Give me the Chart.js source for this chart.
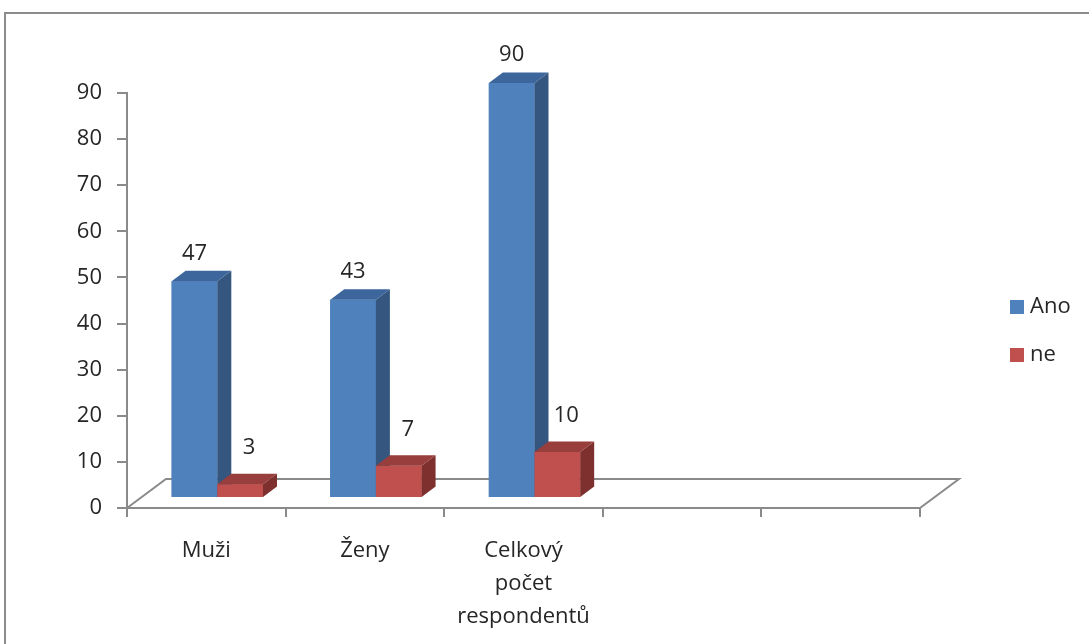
<!DOCTYPE html>
<html lang="cs">
<head>
<meta charset="utf-8">
<title>Ano / ne</title>
<script src="https://cdn.jsdelivr.net/npm/chart.js@4/dist/chart.umd.min.js"></script>
<style>
  html, body { margin: 0; padding: 0; background: #fff; }
  canvas { display: block; }
</style>
</head>
<body>
<canvas id="chart" width="1089" height="644"></canvas>
<script>
// ---- data ----
const categories = ['Muži', 'Ženy', ['Celkový', 'počet', 'respondentů'], '', ''];
const seriesNames = ['Ano', 'ne'];
const anoValues = [47, 43, 90, null, null];
const neValues = [3, 7, 10, null, null];
const yMin = 0;
const yMax = 90;
const yStep = 10;

// ---- look ----
const FONT = "'Open Sans', 'Noto Sans', sans-serif";
const FONT_SIZE = 22;
const TEXT = '#262626';
const AXIS = '#8a8a8a';
const faceColors = {
  front: ['#4F81BD', '#C0504D'],
  top:   ['#3D669C', '#983E3C'],
  side:  ['#34567F', '#7E302E']
};

// simple oblique projection: floor depth, plane the bars stand in, bar depth
const floorDepth = { dx: 39, dy: -29 };
const barPlane   = { dx: 11, dy: -10 };
const barDepth   = { dx: 14, dy: -10.5 };
const valueLabelOffset = [ { dx: 0, dy: -28 }, { dx: 9, dy: -36 } ];

Chart.defaults.font.family = FONT;
Chart.defaults.font.size = FONT_SIZE;
Chart.defaults.color = TEXT;

// outer frame of the chart object
const framePlugin = {
  id: 'frame',
  beforeDraw(chart) {
    const ctx = chart.ctx;
    ctx.save();
    ctx.fillStyle = '#fff';
    ctx.fillRect(0, 0, chart.width, chart.height);
    ctx.strokeStyle = '#8c8c8c';
    ctx.lineWidth = 2;
    ctx.strokeRect(5, 13, chart.width + 40, chart.height + 40);
    ctx.restore();
  }
};

function poly(ctx, pts, color) {
  ctx.beginPath();
  ctx.moveTo(pts[0][0], pts[0][1]);
  for (let k = 1; k < pts.length; k++) ctx.lineTo(pts[k][0], pts[k][1]);
  ctx.closePath();
  ctx.fillStyle = color;
  ctx.fill();
}

// floor, side/top faces of the columns and the value labels
const columns3d = {
  id: 'columns3d',
  beforeDatasetsDraw(chart) {
    const { ctx, chartArea: a } = chart;
    ctx.save();
    ctx.strokeStyle = AXIS;
    ctx.lineWidth = 2;
    ctx.beginPath();
    ctx.moveTo(a.left, a.bottom);
    ctx.lineTo(a.left + floorDepth.dx, a.bottom + floorDepth.dy);
    ctx.lineTo(a.right + floorDepth.dx, a.bottom + floorDepth.dy);
    ctx.lineTo(a.right, a.bottom);
    ctx.stroke();
    ctx.restore();

    ctx.save();
    ctx.translate(barPlane.dx, barPlane.dy);
  },
  afterDatasetsDraw(chart) {
    const ctx = chart.ctx;
    const n = chart.data.labels.length;
    const sets = chart.data.datasets;
    for (let j = 0; j < n; j++) {
      for (let i = 0; i < sets.length; i++) {
        const v = sets[i].data[j];
        if (v === null || v === undefined) continue;
        const el = chart.getDatasetMeta(i).data[j];
        const { x, y, base, width } = el.getProps(['x', 'y', 'base', 'width'], true);
        const x1 = x - width / 2, x2 = x + width / 2;
        const dx = barDepth.dx, dy = barDepth.dy;
        poly(ctx, [[x1, y], [x2, y], [x2, base], [x1, base]], faceColors.front[i]);
        poly(ctx, [[x2, y], [x2 + dx, y + dy], [x2 + dx, base + dy], [x2, base]], faceColors.side[i]);
        poly(ctx, [[x1, y], [x1 + dx, y + dy], [x2 + dx, y + dy], [x2, y]], faceColors.top[i]);
      }
    }
    ctx.restore();

    // value labels above the columns
    ctx.save();
    ctx.font = `${FONT_SIZE}px ${FONT}`;
    ctx.fillStyle = TEXT;
    ctx.textAlign = 'center';
    ctx.textBaseline = 'middle';
    for (let i = 0; i < sets.length; i++) {
      const meta = chart.getDatasetMeta(i);
      sets[i].data.forEach((v, j) => {
        if (v === null || v === undefined) return;
        const el = meta.data[j];
        const off = valueLabelOffset[i];
        ctx.fillText(String(v), el.x + barPlane.dx + off.dx, el.y + barPlane.dy + off.dy);
      });
    }
    ctx.restore();
  }
};

// legend on the right: coloured square + series name
const sideLegend = {
  id: 'sideLegend',
  afterDraw(chart, args, opts) {
    const ctx = chart.ctx;
    ctx.save();
    ctx.font = `${FONT_SIZE}px ${FONT}`;
    ctx.textAlign = 'left';
    ctx.textBaseline = 'middle';
    chart.data.datasets.forEach((ds, i) => {
      const cy = opts.y + i * opts.step;
      ctx.fillStyle = ds.backgroundColor;
      ctx.fillRect(opts.x, cy - opts.box / 2, opts.box, opts.box);
      ctx.fillStyle = TEXT;
      ctx.fillText(ds.label, opts.x + opts.box + 6, cy);
    });
    ctx.restore();
  }
};

new Chart(document.getElementById('chart'), {
  type: 'bar',
  data: {
    labels: categories,
    datasets: [
      { label: seriesNames[0], data: anoValues, backgroundColor: faceColors.front[0], clip: false },
      { label: seriesNames[1], data: neValues,  backgroundColor: faceColors.front[1], clip: false }
    ]
  },
  options: {
    responsive: false,
    animation: false,
    events: [],
    layout: { padding: { top: 93, right: 169, bottom: 0, left: 0 } },
    datasets: {
      bar: { categoryPercentage: 0.576, barPercentage: 1.0, borderWidth: 0 }
    },
    scales: {
      x: {
        grid: { drawOnChartArea: false, drawTicks: true, tickLength: 9, color: AXIS, lineWidth: 2, offset: true },
        border: { display: true, color: AXIS, width: 2 },
        ticks: {
          autoSkip: false, maxRotation: 0, minRotation: 0, padding: 17,
          font: { size: FONT_SIZE, lineHeight: 1.5 }, color: TEXT
        },
        afterFit(scale) { scale.height = 136; }
      },
      y: {
        min: yMin, max: yMax,
        grid: { drawOnChartArea: false, drawTicks: true, tickLength: 10, color: AXIS, lineWidth: 2 },
        border: { display: true, color: AXIS, width: 2 },
        ticks: { stepSize: yStep, padding: 15, font: { size: FONT_SIZE }, color: TEXT },
        afterFit(scale) { scale.width = 127; }
      }
    },
    plugins: {
      legend: { display: false },
      tooltip: { enabled: false },
      sideLegend: { x: 1010, y: 307, step: 48, box: 14 }
    }
  },
  plugins: [framePlugin, columns3d, sideLegend]
});
</script>
</body>
</html>
